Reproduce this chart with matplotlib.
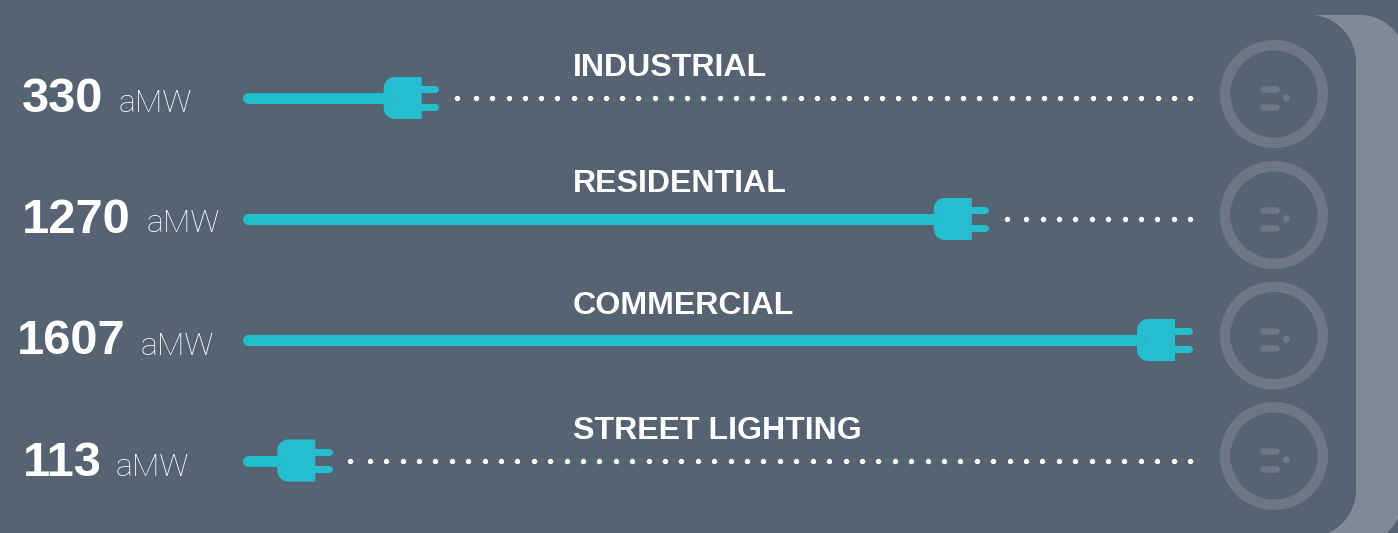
import numpy as np
import matplotlib
matplotlib.use("Agg")
import matplotlib.pyplot as plt
from matplotlib.patches import Circle, PathPatch, Polygon
from matplotlib.path import Path

# ---- data ----
categories = ["INDUSTRIAL", "RESIDENTIAL", "COMMERCIAL", "STREET LIGHTING"]
values = [330, 1270, 1607, 113]
unit = "aMW"
reach_percent = [20.6, 78.5, 99.9, 9.4]  # how far each plug reaches along its track

# ---- style / layout ----
W, H = 1398, 533
BG = "#566372"
BACK = "#7f8a95"
RING = "#6f7684"
TEAL = "#22bdcb"
PLUG = "#25bece"
FONT = "Liberation Sans"
TRACK_L, TRACK_R = 243.0, 1193.0
ROW_Y = [98.0, 219.0, 340.0, 460.5]
RING_Y = [94.0, 215.0, 335.5, 456.0]
NUM_X = [22, 22, 17, 23]
NUM_BASE = [112, 233, 354, 476]
UNIT_X = [119, 147, 141, 116]
UNIT_BASE = [112, 232, 355, 476]
TITLE_BASE = [76, 192, 314, 439]
PT = 0.72  # points per pixel at dpi 100

fig = plt.figure(figsize=(W / 100, H / 100), dpi=100, facecolor=BG)
px = fig.add_axes([0, 0, 1, 1])
px.set_xlim(0, W)
px.set_ylim(H, 0)
px.axis("off")

# track axes: x is percent of the track, y is the row index
track = fig.add_axes([TRACK_L / W, 0, (TRACK_R - TRACK_L) / W, 1], facecolor="none")
track.set_xlim(0, 100)
row_step = ROW_Y[1] - ROW_Y[0]
track.set_ylim((H - ROW_Y[0]) / row_step, -ROW_Y[0] / row_step)
track.axis("off")


def arc(cx, cy, r, a0, a1, n=40):
    t = np.radians(np.linspace(a0, a1, n))
    return np.column_stack([cx + r * np.cos(t), cy + r * np.sin(t)])


# back panel (lighter) and front panel with rounded corners
back = np.vstack([
    [[1300, 15]],
    arc(1360, 61, 46, -90, -25),
    [[1398, 40], [1398, 518]],
    arc(1345, 490, 60, 28, 46),
    [[1300, 533]],
])
px.add_patch(Polygon(back, closed=True, fc=BACK, ec="none", zorder=1))
front = np.vstack([
    [[1200, 14]],
    [[1308, 14.6]],
    arc(1308, 62.5, 48, -90, 0),
    [[1356, 490]],
    arc(1309, 490, 47, 0, 66),
    [[1200, 534]],
])
px.add_patch(Polygon(front, closed=True, fc=BG, ec="none", zorder=2))

# sockets
for y in RING_Y:
    px.add_patch(Circle((1274, y), 48.8, fc="none", ec=RING, lw=10.5 * PT, zorder=3))
    for dy in (-5, 12.5):
        px.plot([1262.5, 1276], [y + dy, y + dy], lw=6.5 * PT, color=RING,
                solid_capstyle="round", zorder=3)
    px.add_patch(Circle((1286.5, y + 3.7), 3.5, fc=RING, ec="none", zorder=3))


def plug_path(tip, cy):
    l, r = tip - 55, tip - 17
    t, b = cy - 21, cy + 21
    rad, k = 11, 0.45
    verts = [(r, t), (r, b), (l + rad, b), (l + rad * k, b), (l, b - rad * k), (l, b - rad),
             (l, t + rad), (l, t + rad * k), (l + rad * k, t), (l + rad, t), (r, t)]
    codes = [Path.MOVETO, Path.LINETO, Path.LINETO, Path.CURVE4, Path.CURVE4, Path.CURVE4,
             Path.LINETO, Path.CURVE4, Path.CURVE4, Path.CURVE4, Path.CLOSEPOLY]
    return Path(verts, codes)


cord_start = 100 * 5.5 / (TRACK_R - TRACK_L)
cord_back = 100 * 50 / (TRACK_R - TRACK_L)

for i, (cat, val, pct) in enumerate(zip(categories, values, reach_percent)):
    y = ROW_Y[i]
    tip_disp = track.transData.transform((pct, i))
    tip_px = px.transData.inverted().transform(tip_disp)[0]

    # cord: ends under the plug body
    track.plot([cord_start, pct - cord_back], [i, i], lw=11 * PT, color=TEAL,
               solid_capstyle="round", zorder=4)
    # plug body and prongs
    px.add_patch(PathPatch(plug_path(tip_px, y), fc=PLUG, ec="none", zorder=5))
    for dy in (-8.7, 8.7):
        px.plot([tip_px - 20, tip_px - 3.5], [y + dy, y + dy], lw=7 * PT, color=PLUG,
                solid_capstyle="round", zorder=4)

    # dotted remainder: one lead dot, then an even run up to the socket
    first = tip_px + 18
    second = first + 19.5
    if second < 1190:
        n = int(round((1190 - second) / 16.27))
        xs = np.append(first, np.linspace(second, 1190, n + 1))
        px.scatter(xs, np.full(xs.shape, y), s=15, color="white", linewidths=0, zorder=4)

    # labels
    px.text(NUM_X[i], NUM_BASE[i], str(val), family=FONT, fontweight="bold", fontsize=35.2,
            color="white", ha="left", va="baseline", zorder=6)
    px.text(UNIT_X[i], UNIT_BASE[i], unit, family="Roboto", fontweight="light", fontsize=23,
            color="white", ha="left", va="baseline", zorder=6)
    px.text(573, TITLE_BASE[i], cat, family=FONT, fontweight="bold", fontsize=23.1,
            color="white", ha="left", va="baseline", zorder=6)

fig.savefig("out.png", dpi=100, facecolor=BG)
